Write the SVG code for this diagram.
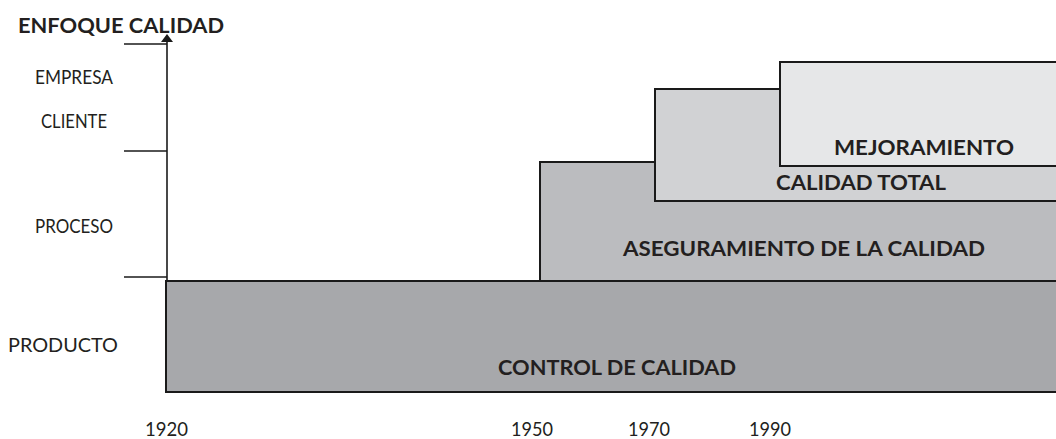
<svg xmlns="http://www.w3.org/2000/svg" width="1056" height="439" viewBox="0 0 1056 439">
<style>
.lbl{font-family:Lato,"Open Sans","Liberation Sans",sans-serif;font-size:19px;fill:#231f20}
.bl{font-family:Lato,"Open Sans","Liberation Sans",sans-serif;font-size:20px;font-weight:bold;fill:#231f20}
.box{stroke:#1a1a1a;stroke-width:2}
.ax{stroke:#1a1a1a;stroke-width:1.6;fill:none}
</style>
<rect width="1056" height="439" fill="#fff"/>
<g id="axis">
<line class="ax" x1="167" y1="282" x2="167" y2="40"/>
<polygon points="167,34 161,42 173,42" fill="#1a1a1a"/>
<line class="ax" x1="124" y1="44" x2="167" y2="44"/>
<line class="ax" x1="124" y1="151" x2="167" y2="151"/>
<line class="ax" x1="124" y1="277" x2="167" y2="277"/>
<text class="bl" x="18" y="33" style="font-size:21px" textLength="206" lengthAdjust="spacingAndGlyphs">ENFOQUE CALIDAD</text>
<text class="lbl" x="35" y="84" textLength="78" lengthAdjust="spacingAndGlyphs">EMPRESA</text>
<text class="lbl" x="41" y="128" textLength="66" lengthAdjust="spacingAndGlyphs">CLIENTE</text>
<text class="lbl" x="35" y="233" textLength="78" lengthAdjust="spacingAndGlyphs">PROCESO</text>
<text class="lbl" x="8" y="352" textLength="110" lengthAdjust="spacingAndGlyphs">PRODUCTO</text>
<text class="lbl" x="145" y="436" textLength="43" lengthAdjust="spacingAndGlyphs">1920</text>
<text class="lbl" x="511" y="436" textLength="42" lengthAdjust="spacingAndGlyphs">1950</text>
<text class="lbl" x="628" y="436" textLength="42" lengthAdjust="spacingAndGlyphs">1970</text>
<text class="lbl" x="749" y="436" textLength="42" lengthAdjust="spacingAndGlyphs">1990</text>
</g>
<g id="control">
<rect class="box" x="166" y="281" width="900" height="111" fill="#a7a8ab"/>
<text class="bl" x="498" y="375" textLength="238" lengthAdjust="spacingAndGlyphs">CONTROL DE CALIDAD</text>
</g>
<g id="aseguramiento">
<rect class="box" x="540" y="162" width="530" height="119" fill="#bbbcbf"/>
<text class="bl" x="623" y="256" textLength="362" lengthAdjust="spacingAndGlyphs">ASEGURAMIENTO DE LA CALIDAD</text>
</g>
<g id="calidadtotal">
<rect class="box" x="655" y="89" width="420" height="112" fill="#d1d2d4"/>
<text class="bl" x="776" y="190" textLength="170" lengthAdjust="spacingAndGlyphs">CALIDAD TOTAL</text>
</g>
<g id="mejoramiento">
<rect class="box" x="780" y="62" width="300" height="104" fill="#e6e7e8"/>
<text class="bl" x="834" y="155" textLength="180" lengthAdjust="spacingAndGlyphs">MEJORAMIENTO</text>
</g>
<g id="connectors"></g>
</svg>
